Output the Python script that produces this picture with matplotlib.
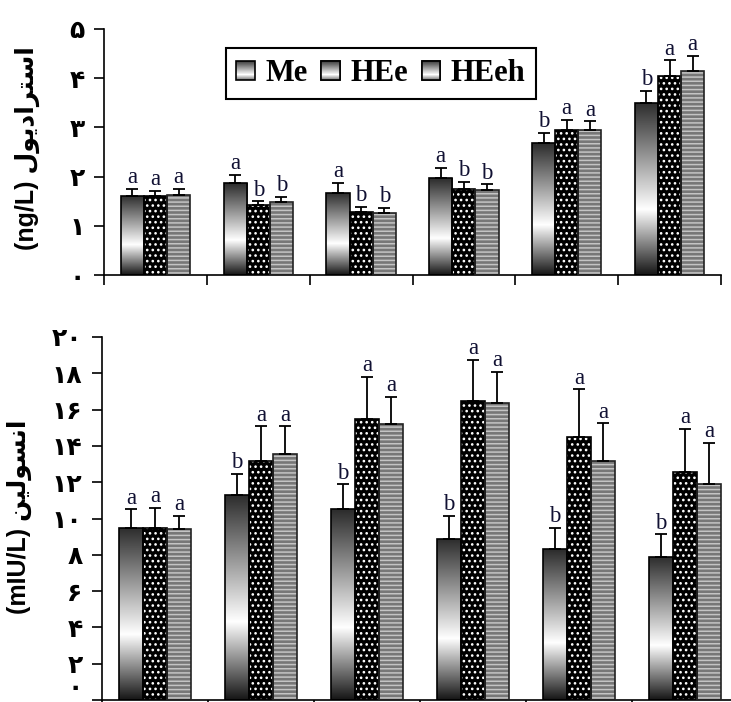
import numpy as np
import matplotlib
matplotlib.use('Agg')
import matplotlib.pyplot as plt
from matplotlib.colors import LinearSegmentedColormap
from matplotlib.patches import Rectangle
from matplotlib.legend_handler import HandlerBase, HandlerTuple
from matplotlib.ticker import FuncFormatter

# data (top of bar, top of error bar)
groups = 6
series = ['Me', 'HEe', 'HEeh']

estradiol_me = [1.61, 1.86, 1.67, 1.97, 2.68, 3.50]
estradiol_hee = [1.60, 1.42, 1.29, 1.75, 2.95, 4.05]
estradiol_heeh = [1.63, 1.48, 1.27, 1.72, 2.95, 4.15]
estradiol_me_err = [0.14, 0.17, 0.20, 0.21, 0.21, 0.25]
estradiol_hee_err = [0.11, 0.08, 0.09, 0.15, 0.21, 0.31]
estradiol_heeh_err = [0.12, 0.11, 0.09, 0.12, 0.17, 0.30]
estradiol_letters = [['a', 'a', 'a'], ['a', 'b', 'b'], ['a', 'b', 'b'],
                     ['a', 'b', 'b'], ['b', 'a', 'a'], ['b', 'a', 'a']]

insulin_me = [9.49, 11.30, 10.52, 8.89, 8.30, 7.88]
insulin_hee = [9.49, 13.17, 15.46, 16.47, 14.50, 12.56]
insulin_heeh = [9.42, 13.57, 15.19, 16.38, 13.15, 11.88]
insulin_me_err = [1.01, 1.15, 1.36, 1.26, 1.18, 1.25]
insulin_hee_err = [1.11, 1.91, 2.34, 2.26, 2.62, 2.37]
insulin_heeh_err = [0.73, 1.51, 1.50, 1.69, 2.09, 2.28]
insulin_letters = [['a', 'a', 'a'], ['b', 'a', 'a'], ['b', 'a', 'a'],
                   ['b', 'a', 'a'], ['b', 'a', 'a'], ['b', 'a', 'a']]

label_estradiol = 'استرادیول'
label_insulin = 'انسولین'

# --- minimal persian shaping (matplotlib does no arabic shaping) ---
FORMS = {
    'ا': ('\uFE8D', '\uFE8E', None, None),
    'د': ('\uFEA9', '\uFEAA', None, None),
    'ر': ('\uFEAD', '\uFEAE', None, None),
    'و': ('\uFEED', '\uFEEE', None, None),
    'س': ('\uFEB1', '\uFEB2', '\uFEB3', '\uFEB4'),
    'ت': ('\uFE95', '\uFE96', '\uFE97', '\uFE98'),
    'ل': ('\uFEDD', '\uFEDE', '\uFEDF', '\uFEE0'),
    'ن': ('\uFEE5', '\uFEE6', '\uFEE7', '\uFEE8'),
    'ی': ('\uFBFC', '\uFBFD', '\uFEF3', '\uFEF4'),
}


def shape(word):
    out = []
    for i, ch in enumerate(word):
        iso, fin, ini, med = FORMS[ch]
        prev_joins = i > 0 and FORMS[word[i - 1]][2] is not None
        next_ok = ini is not None and i < len(word) - 1
        if prev_joins and next_ok:
            out.append(med)
        elif prev_joins:
            out.append(fin)
        elif next_ok:
            out.append(ini)
        else:
            out.append(iso)
    return ''.join(reversed(out))


FA_DIGITS = '۰۱۲۳۴۵۶۷۸۹'


def to_fa(v, pos=None):
    return ''.join(FA_DIGITS[int(c)] for c in str(int(round(v))))


grad_cmap = LinearSegmentedColormap.from_list(
    'me', [(0.0, '#151515'), (0.38, '#ffffff'), (1.0, '#2b2b2b')])
plt.rcParams['hatch.linewidth'] = 1.1

W = 0.225
offsets = [-W, 0.0, W]


def draw_panel(ax, vals, errs, letters, ymax, ystep):
    x = np.arange(groups) + 0.5
    me, hee, heeh = vals
    # Me: vertical gradient clipped to each bar
    bars = ax.bar(x + offsets[0], me, W, facecolor='none', edgecolor='k', lw=1.2, zorder=3)
    grad = np.linspace(0, 1, 256).reshape(-1, 1)
    for b in bars:
        im = ax.imshow(grad, cmap=grad_cmap, aspect='auto', origin='lower', zorder=2,
                       extent=[b.get_x(), b.get_x() + b.get_width(), 0, b.get_height()])
        im.set_clip_path(b)
    # HEe: black with white dots
    ax.bar(x + offsets[1], hee, W, facecolor='black', edgecolor='white', hatch='...', lw=0, zorder=2)
    ax.bar(x + offsets[1], hee, W, facecolor='none', edgecolor='k', lw=1.2, zorder=3)
    # HEeh: gray with horizontal lines
    ax.bar(x + offsets[2], heeh, W, facecolor='#777777', edgecolor='#c4c4c4', hatch='----', lw=0, zorder=2)
    ax.bar(x + offsets[2], heeh, W, facecolor='none', edgecolor='#222222', lw=1.2, zorder=3)

    for k in range(3):
        ax.errorbar(x + offsets[k], vals[k], yerr=[np.zeros(groups), errs[k]], fmt='none',
                    ecolor='k', elinewidth=1.3, capsize=4.6, capthick=1.3, zorder=4)
        for g in range(groups):
            ax.annotate(letters[g][k], (x[g] + offsets[k], vals[k][g] + errs[k][g]),
                        xytext=(0, 0.5), textcoords='offset points', ha='center', va='bottom',
                        fontsize=16.5, family='Liberation Serif', color='#111133')

    ax.set_xlim(0, groups)
    ax.set_ylim(0, ymax)
    ax.set_xticks(np.arange(groups + 1))
    ax.set_xticklabels([])
    ax.set_yticks(np.arange(0, ymax + 0.01, ystep))
    ax.yaxis.set_major_formatter(FuncFormatter(to_fa))
    ax.tick_params(axis='both', direction='out', length=7, width=1.2)
    ax.tick_params(axis='y', pad=7, labelsize=18)
    for lab in ax.get_yticklabels():
        lab.set_fontweight('bold')
        lab.set_family('DejaVu Sans')
    for s in ['top', 'right']:
        ax.spines[s].set_visible(False)
    for s in ['left', 'bottom']:
        ax.spines[s].set_linewidth(1.2)


class GradientHandler(HandlerBase):
    def create_artists(self, legend, orig_handle, xdescent, ydescent, width, height, fontsize, trans):
        arts = []
        n = 20
        for k in range(n):
            c = grad_cmap(0.15 + 0.85 * (k + 0.5) / n)
            arts.append(Rectangle((-xdescent, -ydescent + height * k / n), width, height / n,
                                  facecolor=c, edgecolor='none', transform=trans))
        arts.append(Rectangle((-xdescent, -ydescent), width, height, facecolor='none',
                              edgecolor='k', lw=1.2, transform=trans))
        return arts


fig = plt.figure(figsize=(7.31, 7.02), dpi=100)
ax1 = fig.add_axes([104 / 731, 1 - 275 / 702, 617 / 731, 246 / 702])
ax2 = fig.add_axes([102 / 731, 1 - 700 / 702, 636 / 731, 363 / 702])

draw_panel(ax1, [estradiol_me, estradiol_hee, estradiol_heeh],
           [estradiol_me_err, estradiol_hee_err, estradiol_heeh_err], estradiol_letters, 5, 1)
draw_panel(ax2, [insulin_me, insulin_hee, insulin_heeh],
           [insulin_me_err, insulin_hee_err, insulin_heeh_err], insulin_letters, 20, 2)
# the zero label sits on the bottom edge of the picture; lift it so it is not cut
ax2.get_yticklabels()[0].set_va('bottom')

lab_fam = ['Liberation Sans', 'DejaVu Sans']
ax1.set_ylabel('(ng/L) ' + shape(label_estradiol), fontsize=18, fontweight='bold', family=lab_fam)
ax1.yaxis.set_label_coords((27 - 104) / 617, 0.516)
ax1.yaxis.label.set_va('center')
ax2.set_ylabel('(mIU/L) ' + shape(label_insulin), fontsize=18, fontweight='bold', family=lab_fam)
ax2.yaxis.set_label_coords((19 - 102) / 636, 0.504)
ax2.yaxis.label.set_va('center')

# legend
h_me = Rectangle((0, 0), 1, 1)
h_hee = (Rectangle((0, 0), 1, 1, facecolor='black', edgecolor='white', hatch='..', lw=0),
         Rectangle((0, 0), 1, 1, facecolor='none', edgecolor='k', lw=1.2))
h_heeh = (Rectangle((0, 0), 1, 1, facecolor='#777777', edgecolor='#c4c4c4', hatch='----', lw=0),
          Rectangle((0, 0), 1, 1, facecolor='none', edgecolor='#222222', lw=1.2))
leg = ax1.legend([h_me, h_hee, h_heeh], series, loc='center', bbox_to_anchor=(0.449, 0.819),
                 ncol=3, frameon=True, fancybox=False, edgecolor='k', framealpha=1,
                 handlelength=0.6, handleheight=0.6, handletextpad=0.35, columnspacing=0.45,
                 borderpad=0.35, borderaxespad=0,
                 prop={'family': 'Liberation Serif', 'weight': 'bold', 'size': 22},
                 handler_map={Rectangle: GradientHandler(), tuple: HandlerTuple(ndivide=1)})
leg.get_frame().set_linewidth(1.5)

fig.savefig('out.png', dpi=100)
